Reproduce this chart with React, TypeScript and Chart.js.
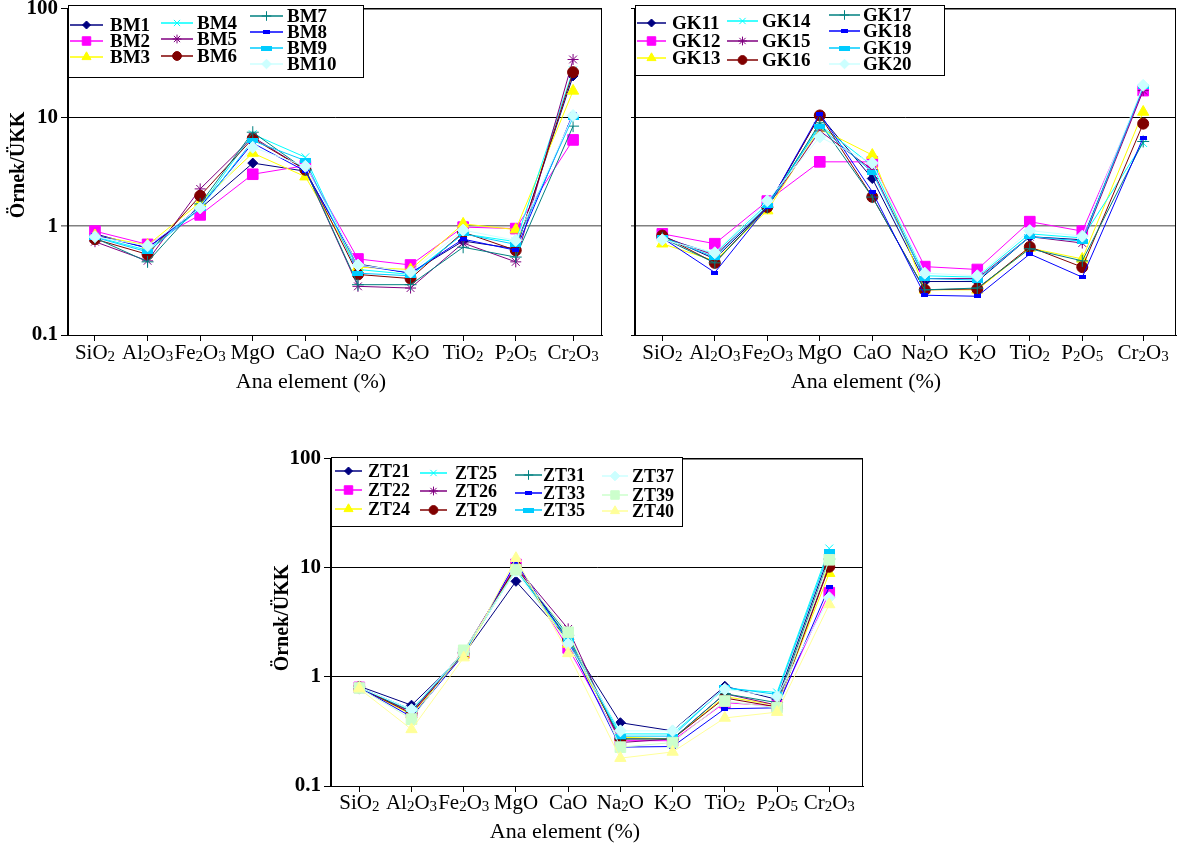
import React, { useEffect, useRef } from 'react';
import { Chart, registerables } from 'chart.js';
import { drawPoint } from 'chart.js/helpers';

Chart.register(...registerables);

// ---------- data ----------
const categories = ['SiO₂', 'Al₂O₃', 'Fe₂O₃', 'MgO', 'CaO', 'Na₂O', 'K₂O', 'TiO₂', 'P₂O₅', 'Cr₂O₃'];
const yTickValues = [0.1, 1, 10, 100];
const xAxisTitle = 'Ana element (%)';
const yAxisTitle = 'Örnek/ÜKK';

const bmNames = ['BM1', 'BM2', 'BM3', 'BM4', 'BM5', 'BM6', 'BM7', 'BM8', 'BM9', 'BM10'];
const bm1 = [0.85, 0.63, 1.45, 3.8, 3.2, 0.45, 0.37, 0.73, 0.62, 24];
const bm2 = [0.9, 0.68, 1.27, 3.0, 3.6, 0.5, 0.44, 0.98, 0.95, 6.2];
const bm3 = [0.82, 0.67, 1.65, 4.7, 2.85, 0.42, 0.4, 1.05, 0.93, 17.5];
const bm4 = [0.8, 0.6, 1.5, 7.0, 4.3, 0.4, 0.36, 0.85, 0.72, 27];
const bm5 = [0.72, 0.48, 2.2, 6.6, 3.3, 0.28, 0.27, 0.7, 0.47, 34];
const bm6 = [0.76, 0.55, 1.9, 6.4, 3.3, 0.36, 0.33, 0.88, 0.6, 26];
const bm7 = [0.78, 0.47, 1.6, 7.3, 3.3, 0.29, 0.29, 0.64, 0.52, 8.3];
const bm8 = [0.83, 0.63, 1.5, 5.8, 3.2, 0.44, 0.37, 0.76, 0.6, 10.8];
const bm9 = [0.79, 0.58, 1.45, 6.1, 4.0, 0.37, 0.35, 0.85, 0.68, 10];
const bm10 = [0.8, 0.66, 1.47, 5.3, 3.55, 0.44, 0.38, 0.92, 0.74, 10.4];

const gkNames = ['GK11', 'GK12', 'GK13', 'GK14', 'GK15', 'GK16', 'GK17', 'GK18', 'GK19', 'GK20'];
const gk11 = [0.82, 0.5, 1.5, 10.4, 2.74, 0.31, 0.31, 0.8, 0.75, 18.5];
const gk12 = [0.85, 0.69, 1.7, 3.9, 3.9, 0.425, 0.4, 1.1, 0.9, 17.6];
const gk13 = [0.69, 0.48, 1.39, 7.9, 4.5, 0.26, 0.26, 0.63, 0.5, 11.2];
const gk14 = [0.78, 0.56, 1.6, 8.5, 3.6, 0.35, 0.34, 0.85, 0.78, 5.8];
const gk15 = [0.8, 0.54, 1.5, 7.5, 3.3, 0.33, 0.33, 0.8, 0.7, 17.6];
const gk16 = [0.82, 0.46, 1.5, 10.4, 1.86, 0.26, 0.265, 0.645, 0.42, 8.75];
const gk17 = [0.78, 0.46, 1.48, 8.9, 1.85, 0.26, 0.27, 0.62, 0.48, 6.0];
const gk18 = [0.78, 0.375, 1.5, 10.8, 2.07, 0.232, 0.227, 0.555, 0.34, 6.5];
const gk19 = [0.79, 0.52, 1.54, 8.2, 3.13, 0.33, 0.32, 0.8, 0.73, 19];
const gk20 = [0.75, 0.57, 1.71, 6.6, 3.8, 0.37, 0.35, 0.91, 0.81, 19.7];

const ztNames = ['ZT21', 'ZT22', 'ZT24', 'ZT25', 'ZT26', 'ZT29', 'ZT31', 'ZT33', 'ZT35', 'ZT37', 'ZT39', 'ZT40'];
const zt21 = [0.82, 0.55, 1.6, 7.5, 2.2, 0.38, 0.32, 0.82, 0.62, 13.1];
const zt22 = [0.8, 0.47, 1.65, 10.7, 1.84, 0.26, 0.26, 0.58, 0.54, 5.9];
const zt24 = [0.8, 0.45, 1.6, 10, 2.0, 0.28, 0.27, 0.66, 0.55, 8.9];
const zt25 = [0.79, 0.5, 1.7, 9.5, 2.3, 0.3, 0.3, 0.78, 0.72, 15];
const zt26 = [0.78, 0.48, 1.72, 10.3, 2.75, 0.25, 0.27, 0.7, 0.55, 10.5];
const zt29 = [0.8, 0.46, 1.65, 10.2, 2.2, 0.27, 0.27, 0.64, 0.53, 10.2];
const zt31 = [0.8, 0.48, 1.68, 9.8, 2.4, 0.27, 0.27, 0.7, 0.58, 12];
const zt33 = [0.8, 0.43, 1.6, 11.2, 2.1, 0.227, 0.23, 0.51, 0.52, 6.7];
const zt35 = [0.8, 0.5, 1.65, 9.6, 2.16, 0.286, 0.286, 0.8, 0.69, 14];
const zt37 = [0.8, 0.5, 1.7, 9.3, 2.0, 0.32, 0.32, 0.77, 0.66, 5.3];
const zt39 = [0.79, 0.41, 1.75, 9.6, 2.56, 0.227, 0.25, 0.6, 0.52, 11.8];
const zt40 = [0.78, 0.33, 1.5, 12.2, 1.64, 0.18, 0.205, 0.42, 0.475, 4.6];

// ---------- styles ----------
type Sty = { color: string; shape?: string; r: number; bar?: [number, number] };
const styles: Sty[] = [
  { color: '#000080', shape: 'rectRot', r: 5 },
  { color: '#FF00FF', shape: 'rect', r: 7.5 },
  { color: '#FFFF00', shape: 'triangle', r: 6.5 },
  { color: '#00FFFF', shape: 'crossRot', r: 5.5 },
  { color: '#800080', shape: 'star', r: 5.5 },
  { color: '#800000', shape: 'circle', r: 5.5 },
  { color: '#008080', shape: 'cross', r: 6 },
  { color: '#0000FF', r: 4, bar: [7, 4] },
  { color: '#00CCFF', r: 5, bar: [11, 5] },
  { color: '#CCFFFF', shape: 'rectRot', r: 6 },
  { color: '#CCFFCC', shape: 'rect', r: 7.5 },
  { color: '#FFFF99', shape: 'triangle', r: 6.5 },
];

const FONT = '"Liberation Serif", "Times New Roman", serif';
const SUBS = '₀₁₂₃₄₅₆₇₈₉';

type Col = { x1: number; x2: number; tx: number; ys: number[] };
type PanelCfg = {
  left: number; top: number; width: number; height: number;
  area: { left: number; top: number; right: number; bottom: number };
  xMin: number; xMax: number; lastX: number;
  names: string[]; series: number[][];
  showY: boolean; grayOne: boolean; yTickLen: number;
  yTitle?: [number, number]; xTitle: [number, number]; tickBase: number;
  legend: { box: [number, number, number, number]; size: number; cols: Col[] };
};

const panels: PanelCfg[] = [
  {
    left: 0, top: 0, width: 612, height: 400,
    area: { left: 68, top: 5, right: 602, bottom: 335 },
    xMin: 0.487, xMax: 10.64, lastX: 10.09,
    names: bmNames, series: [bm1, bm2, bm3, bm4, bm5, bm6, bm7, bm8, bm9, bm10],
    showY: true, grayOne: true, yTickLen: 7,
    yTitle: [19, 165], xTitle: [311, 388], tickBase: 24,
    legend: {
      box: [68, 5, 363, 77], size: 19,
      cols: [
        { x1: 70, x2: 103, tx: 110, ys: [25, 41, 57] },
        { x1: 161, x2: 193, tx: 197, ys: [23, 39, 56] },
        { x1: 250, x2: 283, tx: 287, ys: [16, 32, 48, 64] },
      ],
    },
  },
  {
    left: 625, top: 0, width: 563, height: 400,
    area: { left: 10, top: 5, right: 551, bottom: 335 },
    xMin: 0.48, xMax: 10.785, lastX: 10.16,
    names: gkNames, series: [gk11, gk12, gk13, gk14, gk15, gk16, gk17, gk18, gk19, gk20],
    showY: false, grayOne: true, yTickLen: 4,
    xTitle: [866, 388], tickBase: 24,
    legend: {
      box: [635, 5, 944, 75], size: 19,
      cols: [
        { x1: 637, x2: 666, tx: 672, ys: [23, 41, 58] },
        { x1: 727, x2: 758, tx: 762, ys: [21, 41, 60] },
        { x1: 829, x2: 860, tx: 863, ys: [15, 31, 48, 64] },
      ],
    },
  },
  {
    left: 262, top: 450, width: 612, height: 400,
    area: { left: 69, top: 6, right: 601, bottom: 336 },
    xMin: 0.458, xMax: 10.646, lastX: 10,
    names: ztNames, series: [zt21, zt22, zt24, zt25, zt26, zt29, zt31, zt33, zt35, zt37, zt39, zt40],
    showY: true, grayOne: false, yTickLen: 7,
    yTitle: [283, 618], xTitle: [565, 838], tickBase: 23,
    legend: {
      box: [331, 457, 682, 526], size: 18,
      cols: [
        { x1: 335, x2: 362, tx: 368, ys: [471, 490, 509] },
        { x1: 420, x2: 447, tx: 455, ys: [473, 491, 510] },
        { x1: 515, x2: 542, tx: 543, ys: [475, 493, 510] },
        { x1: 602, x2: 628, tx: 632, ys: [476, 495, 511] },
      ],
    },
  },
];

function barCanvas(w: number, h: number, color: string) {
  const c = document.createElement('canvas');
  c.width = w;
  c.height = h;
  const g = c.getContext('2d')!;
  g.fillStyle = color;
  g.fillRect(0, 0, w, h);
  return c;
}

function drawRich(ctx: CanvasRenderingContext2D, text: string, cx: number, baseY: number, size: number) {
  const parts: { t: string; sub: boolean }[] = [];
  for (const ch of text) {
    const k = SUBS.indexOf(ch);
    const sub = k >= 0;
    const t = sub ? String(k) : ch;
    const last = parts[parts.length - 1];
    if (last && last.sub === sub) last.t += t;
    else parts.push({ t, sub });
  }
  const subSize = Math.round(size * 0.72);
  const widths = parts.map((p) => {
    ctx.font = `${p.sub ? subSize : size}px ${FONT}`;
    return ctx.measureText(p.t).width;
  });
  let x = cx - widths.reduce((a, b) => a + b, 0) / 2;
  ctx.textAlign = 'left';
  ctx.textBaseline = 'alphabetic';
  parts.forEach((p, i) => {
    ctx.font = `${p.sub ? subSize : size}px ${FONT}`;
    ctx.fillText(p.t, x, baseY + (p.sub ? size * 0.1 : 0));
    x += widths[i];
  });
}

function Panel({ cfg }: { cfg: PanelCfg }) {
  const ref = useRef<HTMLCanvasElement>(null);
  useEffect(() => {
    const pos = categories.map((_, i) => (i === categories.length - 1 ? cfg.lastX : i + 1));
    const n = cfg.series.length;
    const pointStyles = cfg.series.map((_, i) => {
      const st = styles[i];
      return st.bar ? barCanvas(st.bar[0], st.bar[1], st.color) : st.shape;
    });
    const datasets = cfg.series.map((vals, i) => {
      const st = styles[i];
      return {
        label: cfg.names[i],
        data: vals.map((v, j) => ({ x: pos[j], y: v })),
        borderColor: st.color,
        backgroundColor: st.color,
        borderWidth: 1,
        pointStyle: pointStyles[i] as any,
        pointRadius: st.r,
        pointHoverRadius: st.r,
        pointBorderColor: st.color,
        pointBackgroundColor: st.color,
        pointBorderWidth: 1,
        tension: 0,
        fill: false,
        order: n - i,
      };
    });
    const a = cfg.area;
    const decor = {
      id: 'decor',
      afterDraw(chart: any) {
        const ctx: CanvasRenderingContext2D = chart.ctx;
        const ca = chart.chartArea;
        const xs = chart.scales.x;
        ctx.save();
        ctx.strokeStyle = '#000';
        ctx.lineWidth = 1;
        ctx.strokeRect(ca.left + 0.5, ca.top + 0.5, ca.right - ca.left - 1, ca.bottom - ca.top);
        ctx.fillStyle = '#000';
        categories.forEach((c, i) => drawRich(ctx, c, xs.getPixelForValue(pos[i]), ca.bottom + cfg.tickBase, 21));
        ctx.font = `22px ${FONT}`;
        ctx.textAlign = 'center';
        ctx.textBaseline = 'alphabetic';
        ctx.fillText(xAxisTitle, cfg.xTitle[0] - cfg.left, cfg.xTitle[1] - cfg.top);
        if (cfg.yTitle) {
          ctx.save();
          ctx.translate(cfg.yTitle[0] - cfg.left, cfg.yTitle[1] - cfg.top);
          ctx.rotate(-Math.PI / 2);
          ctx.font = `bold 20px ${FONT}`;
          ctx.textAlign = 'center';
          ctx.textBaseline = 'middle';
          ctx.fillText(yAxisTitle, 0, 0);
          ctx.restore();
        }
        // legend
        const L = cfg.legend;
        const ox = cfg.left, oy = cfg.top;
        ctx.fillStyle = '#fff';
        ctx.fillRect(L.box[0] - ox, L.box[1] - oy, L.box[2] - L.box[0], L.box[3] - L.box[1]);
        ctx.strokeStyle = '#000';
        ctx.lineWidth = 1;
        ctx.strokeRect(L.box[0] - ox + 0.5, L.box[1] - oy + 0.5, L.box[2] - L.box[0], L.box[3] - L.box[1]);
        let k = 0;
        L.cols.forEach((col) => {
          col.ys.forEach((y) => {
            const st = styles[k];
            const yy = y - oy;
            ctx.strokeStyle = st.color;
            ctx.lineWidth = 1.5;
            ctx.beginPath();
            ctx.moveTo(col.x1 - ox, yy);
            ctx.lineTo(col.x2 - ox, yy);
            ctx.stroke();
            ctx.fillStyle = st.color;
            ctx.strokeStyle = st.color;
            ctx.lineWidth = 1;
            drawPoint(ctx, { pointStyle: pointStyles[k] as any, radius: st.r * 0.8, rotation: 0, borderWidth: 1 } as any, (col.x1 + col.x2) / 2 - ox, yy);
            ctx.fillStyle = '#000';
            ctx.font = `bold ${L.size}px ${FONT}`;
            ctx.textAlign = 'left';
            ctx.textBaseline = 'middle';
            ctx.fillText(cfg.names[k], col.tx - ox, yy + 1);
            k++;
          });
        });
        ctx.restore();
      },
    };
    const chart = new Chart(ref.current!, {
      type: 'line',
      data: { datasets: datasets as any },
      options: {
        responsive: false,
        animation: false,
        layout: { padding: { left: 0, top: a.top, right: cfg.width - a.right, bottom: 0 } },
        plugins: { legend: { display: false }, tooltip: { enabled: false } },
        events: [],
        scales: {
          x: {
            type: 'linear',
            min: cfg.xMin,
            max: cfg.xMax,
            afterBuildTicks: (s: any) => {
              s.ticks = pos.map((v) => ({ value: v }));
            },
            afterFit: (s: any) => {
              s.height = cfg.height - a.bottom;
              s.paddingLeft = 0;
              s.paddingRight = 0;
            },
            ticks: { display: false },
            grid: { drawOnChartArea: false, drawTicks: true, tickLength: 6, color: '#000' },
            border: { display: true, color: '#000', width: 1 },
          },
          y: {
            type: 'logarithmic',
            min: 0.1,
            max: 100,
            afterBuildTicks: (s: any) => {
              s.ticks = yTickValues.map((v) => ({ value: v, major: true }));
            },
            afterFit: (s: any) => {
              s.width = a.left;
              s.paddingTop = 0;
              s.paddingBottom = 0;
            },
            ticks: {
              display: cfg.showY,
              autoSkip: false,
              padding: 3,
              color: '#000',
              font: { family: FONT, size: 21, weight: 'bold' },
              callback: (v: any) => String(v),
            },
            grid: {
              drawTicks: true,
              tickLength: cfg.yTickLen,
              color: (c: any) => (cfg.grayOne && c.tick && c.tick.value === 1 ? '#808080' : '#000'),
              lineWidth: (c: any) => (cfg.grayOne && c.tick && c.tick.value === 1 ? 1.6 : 1),
            },
            border: { display: true, color: '#000', width: 1.5 },
          },
        },
      } as any,
      plugins: [decor],
    });
    return () => chart.destroy();
  }, []);
  return (
    <div style={{ position: 'absolute', left: cfg.left, top: cfg.top, width: cfg.width, height: cfg.height }}>
      <canvas ref={ref} width={cfg.width} height={cfg.height} style={{ width: cfg.width, height: cfg.height, display: 'block' }} />
    </div>
  );
}

export default function App() {
  return (
    <div style={{ position: 'absolute', left: 0, top: 0, width: 1188, height: 852, background: '#fff', overflow: 'hidden' }}>
      {panels.map((p, i) => (
        <Panel key={i} cfg={p} />
      ))}
    </div>
  );
}
